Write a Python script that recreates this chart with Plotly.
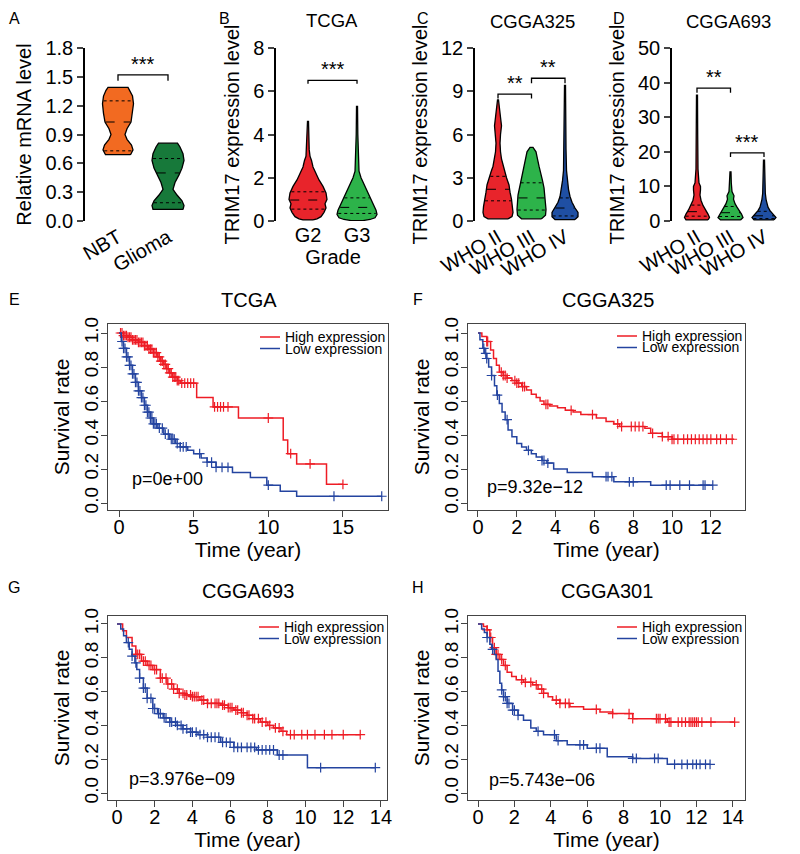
import numpy as np
import plotly.graph_objects as go

W, H = 800, 854
OFF = 8  # the page body adds an 8px margin around the figure
FONT = "Arial, Liberation Sans, sans-serif"

# ── Panel A: qPCR, relative mRNA level ────────────────────────────────────────
A_CATS = ["NBT", "Glioma"]
A_NBT_LEVEL = [0.69, 0.71, 0.74, 0.79, 0.85, 0.90, 0.96, 1.03, 1.12, 1.22, 1.30, 1.36, 1.39]
A_NBT_DENS = [12.5, 13.5, 15, 13.5, 9, 7, 9, 13, 14.5, 15.5, 14.5, 12, 10]
A_NBT_QUART = [0.73, 1.03, 1.25]
A_GLI_LEVEL = [0.12, 0.16, 0.21, 0.27, 0.33, 0.40, 0.48, 0.55, 0.63, 0.70, 0.77, 0.81]
A_GLI_DENS = [15, 16, 14, 9, 5, 7, 11, 14, 16, 15, 12, 9.5]
A_GLI_QUART = [0.19, 0.50, 0.65]

# ── Panel B: TCGA by grade ────────────────────────────────────────────────────
B_CATS = ["G2", "G3"]
B_G2_LEVEL = [0.05, 0.1, 0.2, 0.4, 0.6, 0.8, 1.0, 1.3, 1.6, 1.9, 2.2, 2.5, 2.8, 3.0, 3.3, 4.0, 4.6]
B_G2_DENS = [5, 9, 13, 16, 18, 17, 19, 18, 15, 11, 8, 5, 3.5, 2, 1.2, 0.8, 0.5]
B_G2_QUART = [0.55, 0.97, 1.35]
B_G3_LEVEL = [0.02, 0.07, 0.15, 0.3, 0.5, 0.8, 1.1, 1.4, 1.7, 2.0, 2.3, 3.0, 4.0, 5.3]
B_G3_DENS = [6, 13, 18, 20, 19, 16, 13, 10, 7, 4, 2, 1.2, 0.8, 0.5]
B_G3_QUART = [0.35, 0.63, 1.07]

# ── Panel C: CGGA325 by WHO grade ─────────────────────────────────────────────
WHO_CATS = ["WHO II", "WHO III", "WHO IV"]
C_II_LEVEL = [0.15, 0.3, 0.6, 1.0, 1.5, 2.0, 2.5, 3.0, 3.4, 3.8, 4.3, 4.8, 5.4, 6.0, 6.6, 7.2, 7.8, 8.4]
C_II_DENS = [10, 14, 15, 14.5, 13.5, 12, 11, 8.5, 7, 5, 3.5, 2.5, 2, 2.5, 3.5, 2.5, 1.2, 0.5]
C_II_QUART = [1.4, 2.2, 3.1]
C_III_LEVEL = [0.15, 0.4, 0.8, 1.3, 1.8, 2.3, 2.8, 3.3, 3.8, 4.3, 4.8, 5.1]
C_III_DENS = [10, 14, 14.5, 14, 13.5, 12.5, 11, 9, 7.5, 6, 4.5, 1.5]
C_III_QUART = [0.76, 1.6, 2.65]
C_IV_LEVEL = [0.1, 0.3, 0.6, 0.9, 1.3, 1.7, 2.2, 2.8, 3.5, 5.0, 7.0, 9.4]
C_IV_DENS = [10, 13, 13, 10, 7, 5, 3.5, 2.5, 1.5, 1, 0.8, 0.5]
C_IV_QUART = [0.35, 0.9, 1.6]

# ── Panel D: CGGA693 by WHO grade ─────────────────────────────────────────────
D_II_LEVEL = [0.3, 1, 2, 3.2, 4.5, 6, 7.5, 9, 10, 11, 15, 25, 36.4]
D_II_DENS = [11, 12.5, 11, 8.5, 6, 4, 3, 3.5, 3.5, 2, 1, 0.7, 0.5]
D_II_QUART = [1.4, 2.7, 4.6]
D_III_LEVEL = [0.3, 1, 2, 3, 4, 5, 6.3, 7.3, 8.5, 11, 14.2]
D_III_DENS = [10, 12.5, 11, 8.5, 6.5, 4.5, 3, 3.5, 1.5, 0.8, 0.5]
D_III_QUART = [1.3, 2.4, 4.2]
D_IV_LEVEL = [0.3, 1, 2, 3, 4, 6, 8, 12, 17.6]
D_IV_DENS = [10, 12, 9, 6, 4, 2.2, 1.3, 0.8, 0.5]
D_IV_QUART = [0.7, 1.5, 2.8]

# significance brackets: (left cat, right cat, height, drop, label)
A_SIG = [(0, 1, 1.52, 0.06, "***")]
B_SIG = [(0, 1, 6.5, 0.15, "***")]
C_SIG = [(0, 1, 8.8, 0.3, "**"), (1, 2, 9.9, 0.35, "**")]
D_SIG = [(0, 1, 38.4, 1.3, "**"), (1, 2, 19.7, 1.2, "***")]

# ── Kaplan-Meier curves (step times / survival, end of follow-up, censor times)
E_HIGH_T = [0, 0.3, 0.6, 0.9, 1.3, 1.7, 2.0, 2.3, 2.6, 2.8, 3.0, 3.2, 3.4, 3.6, 3.9, 4.1, 5.2, 6.3, 8.0, 11.0, 11.3, 11.9, 13.9]
E_HIGH_S = [1.0, 0.985, 0.975, 0.96, 0.945, 0.925, 0.905, 0.885, 0.86, 0.835, 0.815, 0.79, 0.765, 0.74, 0.72, 0.705, 0.62, 0.565, 0.50, 0.37, 0.29, 0.23, 0.11]
E_HIGH_END = 15.0
E_HIGH_CENS = [0.1, 0.2, 0.3, 0.4, 0.5, 0.6, 0.7, 0.8, 0.9, 1.0, 1.1, 1.2, 1.3, 1.4, 1.5, 1.6, 1.7, 1.8, 1.9, 2.0,
               2.1, 2.2, 2.3, 2.4, 2.5, 2.6, 2.7, 2.8, 2.9, 3.0, 3.1, 3.2, 3.3, 3.4, 3.5, 3.6, 3.7, 3.8, 3.9, 4.0,
               4.2, 4.4, 4.6, 4.8, 5.0, 6.4, 6.6, 6.8, 7.0, 7.3, 10.0, 11.5, 12.8, 15.0]
E_LOW_T = [0, 0.15, 0.3, 0.5, 0.7, 0.9, 1.1, 1.3, 1.5, 1.7, 1.9, 2.1, 2.3, 2.6, 3.0, 3.4, 3.8, 4.1, 4.6, 5.0, 5.5, 5.9, 6.5, 7.6, 8.8, 9.9, 10.8, 11.9]
E_LOW_S = [1.0, 0.95, 0.91, 0.86, 0.81, 0.76, 0.71, 0.66, 0.62, 0.575, 0.535, 0.50, 0.465, 0.44, 0.405, 0.375, 0.35, 0.33, 0.31, 0.29, 0.265, 0.24, 0.21, 0.18, 0.15, 0.105, 0.07, 0.04]
E_LOW_END = 17.6
E_LOW_CENS = [0.2, 0.3, 0.4, 0.5, 0.6, 0.7, 0.8, 0.9, 1.0, 1.1, 1.2, 1.3, 1.4, 1.5, 1.6, 1.7, 1.8, 1.9, 2.0, 2.1,
              2.2, 2.3, 2.4, 2.5, 2.7, 2.9, 3.1, 3.3, 3.5, 3.6, 3.7, 3.9, 4.1, 4.3, 4.5, 5.4, 5.9, 6.2, 6.5, 6.9,
              7.3, 10.0, 14.4, 17.6]

F_HIGH_T = [0, 0.2, 0.45, 0.65, 0.8, 0.95, 1.1, 1.3, 1.5, 1.75, 2.0, 2.25, 2.5, 2.75, 3.0, 3.2, 3.4, 3.7, 4.1, 4.5, 4.9, 5.3, 6.1, 6.6, 7.0, 7.3, 8.6, 8.9, 9.5, 10.0]
F_HIGH_S = [1.0, 0.98, 0.95, 0.9, 0.85, 0.81, 0.77, 0.75, 0.735, 0.72, 0.705, 0.685, 0.665, 0.64, 0.62, 0.60, 0.58, 0.57, 0.56, 0.545, 0.535, 0.52, 0.50, 0.48, 0.465, 0.45, 0.44, 0.41, 0.39, 0.375]
F_HIGH_END = 13.2
F_HIGH_CENS = [0.45, 0.5, 1.2, 1.3, 1.4, 1.5, 1.9, 2.0, 2.1, 2.3, 2.4, 3.5, 3.6, 4.8, 5.9, 7.2, 7.4, 7.9, 8.1, 8.3,
               8.5, 9.0, 9.5, 9.8, 10.0, 10.1, 10.3, 10.6, 10.8, 11.0, 11.2, 11.4, 11.6, 11.8, 12.0, 12.3, 12.5,
               12.8, 13.1]
F_LOW_T = [0, 0.1, 0.25, 0.35, 0.45, 0.55, 0.7, 0.85, 0.97, 1.1, 1.24, 1.4, 1.55, 1.75, 2.0, 2.25, 2.5, 2.75, 3.0, 3.3, 3.55, 3.9, 4.6, 5.9, 7.0, 8.9]
F_LOW_S = [1.0, 0.96, 0.91, 0.88, 0.85, 0.80, 0.75, 0.69, 0.635, 0.585, 0.535, 0.49, 0.43, 0.39, 0.35, 0.33, 0.31, 0.29, 0.27, 0.25, 0.235, 0.20, 0.18, 0.155, 0.125, 0.105]
F_LOW_END = 12.1
F_LOW_CENS = [0.3, 0.4, 0.45, 0.7, 1.0, 1.5, 2.6, 3.3, 3.4, 3.6, 6.6, 6.7, 6.9, 7.8, 8.0, 9.7, 9.9, 10.4, 10.9,
              11.6, 11.7, 12.1]

G_HIGH_T = [0, 0.3, 0.5, 0.8, 1.0, 1.3, 1.6, 1.9, 2.3, 2.65, 3.0, 3.3, 3.6, 4.0, 4.4, 4.8, 5.5, 5.9, 6.2, 6.6, 6.9, 7.2, 7.6, 8.0, 8.3, 8.7, 9.0]
G_HIGH_S = [1.0, 0.96, 0.92, 0.87, 0.82, 0.78, 0.755, 0.73, 0.68, 0.645, 0.615, 0.59, 0.58, 0.57, 0.55, 0.53, 0.52, 0.505, 0.49, 0.475, 0.46, 0.44, 0.42, 0.40, 0.385, 0.365, 0.345]
G_HIGH_END = 12.9
G_HIGH_CENS = [1.0, 1.1, 1.2, 1.4, 1.5, 1.7, 1.8, 2.0, 2.1, 2.3, 2.4, 2.6, 2.7, 2.9, 3.0, 3.2, 3.3, 3.5, 3.6, 3.7,
               3.9, 4.0, 4.1, 4.2, 4.3, 4.5, 4.6, 4.8, 5.0, 5.2, 5.3, 5.4, 5.6, 5.7, 5.9, 6.0, 6.1, 6.3, 6.4, 6.6,
               6.7, 6.9, 7.0, 7.2, 7.3, 7.5, 7.7, 7.9, 8.1, 8.4, 8.6, 8.8, 9.2, 9.4, 9.8, 10.1, 10.5, 11.0, 11.4,
               12.0, 12.9]
G_LOW_T = [0, 0.2, 0.35, 0.5, 0.65, 0.8, 0.95, 1.05, 1.2, 1.4, 1.6, 1.9, 2.15, 2.45, 2.8, 3.2, 3.5, 3.9, 4.3, 4.8, 5.5, 6.2, 7.4, 8.5, 10.1]
G_LOW_S = [1.0, 0.97, 0.93, 0.89, 0.85, 0.81, 0.77, 0.73, 0.68, 0.62, 0.56, 0.50, 0.47, 0.445, 0.42, 0.40, 0.38, 0.36, 0.345, 0.33, 0.30, 0.27, 0.255, 0.225, 0.15]
G_LOW_END = 13.7
G_LOW_CENS = [0.6, 0.8, 1.0, 1.2, 1.4, 1.5, 1.6, 1.8, 1.9, 2.0, 2.2, 2.3, 2.5, 2.6, 2.8, 2.9, 3.1, 3.2, 3.4, 3.5,
              3.7, 3.9, 4.0, 4.2, 4.4, 4.6, 4.8, 5.0, 5.2, 5.4, 5.6, 5.8, 6.0, 6.2, 6.4, 6.6, 6.9, 7.1, 7.3, 7.5,
              7.7, 7.9, 8.1, 8.3, 8.6, 8.8, 10.8, 13.7]

H_HIGH_T = [0, 0.3, 0.5, 0.65, 0.8, 1.0, 1.2, 1.4, 1.6, 1.85, 2.1, 2.5, 3.0, 3.3, 3.6, 3.85, 4.1, 4.5, 5.05, 5.8, 6.7, 7.4, 8.5, 10.4]
H_HIGH_S = [1.0, 0.985, 0.965, 0.92, 0.86, 0.82, 0.79, 0.755, 0.715, 0.69, 0.67, 0.655, 0.64, 0.615, 0.59, 0.57, 0.55, 0.53, 0.51, 0.495, 0.48, 0.47, 0.44, 0.42]
H_HIGH_END = 14.1
H_HIGH_CENS = [0.5, 0.7, 0.9, 1.0, 1.1, 1.3, 1.5, 2.4, 2.6, 2.9, 3.2, 3.5, 3.6, 4.3, 4.5, 4.8, 5.0, 6.5, 7.4, 8.3,
               8.5, 9.8, 9.9, 10.0, 10.3, 10.5, 10.6, 11.0, 11.2, 11.4, 11.6, 11.7, 11.8, 11.9, 12.0, 12.1, 12.3,
               12.8, 14.1]
H_LOW_T = [0, 0.2, 0.35, 0.5, 0.65, 0.75, 0.9, 1.0, 1.1, 1.2, 1.3, 1.4, 1.6, 1.9, 2.2, 2.5, 2.9, 3.2, 3.6, 4.3, 4.9, 6.0, 7.1, 8.5, 10.4]
H_LOW_S = [1.0, 0.97, 0.95, 0.92, 0.88, 0.85, 0.82, 0.79, 0.72, 0.65, 0.61, 0.57, 0.53, 0.49, 0.46, 0.43, 0.385, 0.365, 0.345, 0.31, 0.285, 0.265, 0.215, 0.205, 0.17]
H_LOW_END = 12.75
H_LOW_CENS = [0.5, 0.8, 1.3, 1.4, 1.5, 1.6, 1.7, 1.9, 2.0, 2.2, 3.3, 4.2, 4.4, 5.6, 5.8, 6.5, 6.7, 8.5, 8.7, 9.7,
              9.9, 10.8, 11.2, 11.5, 11.8, 12.0, 12.2, 12.5, 12.75]

# log-rank p-values, placed at (time, survival) inside each KM panel
P_TEXT = {5: "p=0e+00", 6: "p=9.32e\u221212", 7: "p=3.976e\u221209", 8: "p=5.743e\u221206"}
P_AT = {5: (0.74, 0.14), 6: (0.36, 0.094), 7: (0.53, 0.085), 8: (0.49, 0.08)}

RED_V, GREEN_V, BLUE_V = "#E8242B", "#2DB34A", "#1F4FA3"
ORANGE_A, DGREEN_A = "#F26A21", "#17793A"
KM_RED, KM_BLUE = "#EE1C25", "#2444A0"


def dom_x(p0, p1):
    return [(p0 - OFF) / W, (p1 - OFF) / W]


def dom_y(top, bottom):
    return [1 - (bottom - OFF) / H, 1 - (top - OFF) / H]


def pxx(p):
    return (p - OFF) / W


def pxy(p):
    return 1 - (p - OFF) / H


fig = go.Figure()


def ax_names(k):
    s = "" if k == 1 else str(k)
    return "x" + s, "y" + s


def add_violin(k, center, levels, dens, quart, color, ppu):
    xa, ya = ax_names(k)
    lv = np.array(levels, float)
    hw = np.array(dens, float) / ppu
    xs = np.concatenate([center + hw, (center - hw)[::-1], [center + hw[0]]])
    ys = np.concatenate([lv, lv[::-1], [lv[0]]])
    fig.add_trace(go.Scatter(x=xs, y=ys, mode="lines", fill="toself", fillcolor=color,
                             line=dict(color="black", width=1.3), xaxis=xa, yaxis=ya,
                             showlegend=False, hoverinfo="skip"))
    for i, q in enumerate(quart):
        w = np.interp(q, lv, hw) * 0.95
        fig.add_trace(go.Scatter(x=[center - w, center + w], y=[q, q], mode="lines",
                                 line=dict(color="black", width=1, dash="dash" if i == 1 else "dot"),
                                 xaxis=xa, yaxis=ya, showlegend=False, hoverinfo="skip"))


def add_sig(k, sigs):
    xa, ya = ax_names(k)
    for c1, c2, h, d, lab in sigs:
        fig.add_trace(go.Scatter(x=[c1, c1, c2, c2], y=[h - d, h, h, h - d], mode="lines",
                                 line=dict(color="black", width=1.3), xaxis=xa, yaxis=ya,
                                 showlegend=False, hoverinfo="skip"))
        fig.add_annotation(x=(c1 + c2) / 2, y=h, xref=xa, yref=ya, text=lab, showarrow=False,
                           yanchor="bottom", yshift=-2, font=dict(size=20, color="black"))


def add_km(k, t, s, end, cens, color):
    xa, ya = ax_names(k)
    fig.add_trace(go.Scatter(x=list(t) + [end], y=list(s) + [s[-1]], mode="lines",
                             line=dict(color=color, width=1.5, shape="hv"),
                             xaxis=xa, yaxis=ya, showlegend=False))
    ct = np.array(cens, float)
    idx = np.searchsorted(np.array(t, float), ct, side="right") - 1
    cy = np.array(s, float)[idx]
    fig.add_trace(go.Scatter(x=ct, y=cy, mode="markers",
                             marker=dict(symbol="cross-thin", size=7, line=dict(color=color, width=1.2)),
                             xaxis=xa, yaxis=ya, showlegend=False))


# ── top row violins ───────────────────────────────────────────────────────────
add_violin(1, 0, A_NBT_LEVEL, A_NBT_DENS, A_NBT_QUART, ORANGE_A, 50)
add_violin(1, 1, A_GLI_LEVEL, A_GLI_DENS, A_GLI_QUART, DGREEN_A, 50)
add_sig(1, A_SIG)

add_violin(2, 0, B_G2_LEVEL, B_G2_DENS, B_G2_QUART, RED_V, 49)
add_violin(2, 1, B_G3_LEVEL, B_G3_DENS, B_G3_QUART, GREEN_V, 49)
add_sig(2, B_SIG)

add_violin(3, 0, C_II_LEVEL, C_II_DENS, C_II_QUART, RED_V, 33.5)
add_violin(3, 1, C_III_LEVEL, C_III_DENS, C_III_QUART, GREEN_V, 33.5)
add_violin(3, 2, C_IV_LEVEL, C_IV_DENS, C_IV_QUART, BLUE_V, 33.5)
add_sig(3, C_SIG)

add_violin(4, 0, D_II_LEVEL, D_II_DENS, D_II_QUART, RED_V, 33.5)
add_violin(4, 1, D_III_LEVEL, D_III_DENS, D_III_QUART, GREEN_V, 33.5)
add_violin(4, 2, D_IV_LEVEL, D_IV_DENS, D_IV_QUART, BLUE_V, 33.5)
add_sig(4, D_SIG)

# ── KM plots ──────────────────────────────────────────────────────────────────
add_km(5, E_HIGH_T, E_HIGH_S, E_HIGH_END, E_HIGH_CENS, KM_RED)
add_km(5, E_LOW_T, E_LOW_S, E_LOW_END, E_LOW_CENS, KM_BLUE)
add_km(6, F_HIGH_T, F_HIGH_S, F_HIGH_END, F_HIGH_CENS, KM_RED)
add_km(6, F_LOW_T, F_LOW_S, F_LOW_END, F_LOW_CENS, KM_BLUE)
add_km(7, G_HIGH_T, G_HIGH_S, G_HIGH_END, G_HIGH_CENS, KM_RED)
add_km(7, G_LOW_T, G_LOW_S, G_LOW_END, G_LOW_CENS, KM_BLUE)
add_km(8, H_HIGH_T, H_HIGH_S, H_HIGH_END, H_HIGH_CENS, KM_RED)
add_km(8, H_LOW_T, H_LOW_S, H_LOW_END, H_LOW_CENS, KM_BLUE)


# ── axes ──────────────────────────────────────────────────────────────────────
def vy(k, ymax, dtick, fmt, title):
    xa, _ = ax_names(k)
    return dict(domain=dom_y(48, 221), range=[0, ymax], dtick=dtick, tick0=0, tickformat=fmt,
                ticks="outside", ticklen=6, tickwidth=1.5, showline=True, linewidth=1.5,
                linecolor="black", showgrid=False, zeroline=False, anchor=xa, automargin=False,
                tickfont=dict(size=20), title=dict(text=title, font=dict(size=20), standoff=8))


def vx(k, dom, rng, labels, angle, title=None):
    _, ya = ax_names(k)
    d = dict(domain=dom_x(*dom), range=rng, tickvals=list(range(len(labels))), ticktext=labels,
             tickangle=angle, showline=False, ticks="", showgrid=False, zeroline=False,
             anchor=ya, automargin=False, tickfont=dict(size=20))
    if title:
        d["title"] = dict(text=title, font=dict(size=20), standoff=4)
    return d


def kmx(k, dom, rng, dtick):
    _, ya = ax_names(k)
    return dict(domain=dom_x(*dom), range=rng, dtick=dtick, tick0=0, ticks="outside", ticklen=6,
                tickwidth=1, showline=True, mirror=True, linewidth=1, linecolor="#444",
                showgrid=False, zeroline=False, anchor=ya, automargin=False, tickfont=dict(size=20),
                ticklabelstandoff=-7,
                title=dict(text="Time (year)", font=dict(size=21), standoff=5))


def kmy(k, dom, rng):
    xa, _ = ax_names(k)
    return dict(domain=dom_y(*dom), range=rng, dtick=0.2, tick0=0, tickformat=".1f", tickangle=-90,
                ticks="outside", ticklen=6, tickwidth=1, showline=True, mirror=True, linewidth=1,
                linecolor="#444", showgrid=False, zeroline=False, anchor=xa, automargin=False,
                tickfont=dict(size=19), ticklabelstandoff=-5,
                title=dict(text="Survival rate", font=dict(size=21), standoff=6))


fig.update_layout(
    xaxis=vx(1, (85, 200), [-0.66, 1.64], A_CATS, -30),
    yaxis=vy(1, 1.8, 0.3, ".1f", "Relative mRNA level"),
    xaxis2=vx(2, (276, 390), [-0.653, 1.673], B_CATS, 0, "Grade"),
    yaxis2=vy(2, 8, 2, "d", "TRIM17 expression level"),
    xaxis3=vx(3, (475, 590), [-0.687, 2.746], WHO_CATS, -30),
    yaxis3=vy(3, 12, 3, "d", "TRIM17 expression level"),
    xaxis4=vx(4, (672, 790), [-0.746, 2.776], WHO_CATS, -30),
    yaxis4=vy(4, 50, 10, "d", "TRIM17 expression level"),
    xaxis5=kmx(5, (108, 388), [-0.74, 18.02], 5),
    yaxis5=kmy(5, (324, 510), [-0.041, 1.053]),
    xaxis6=kmx(6, (468, 745), [-0.515, 13.76], 2),
    yaxis6=kmy(6, (324, 510), [-0.041, 1.053]),
    xaxis7=kmx(7, (108, 387), [-0.477, 14.32], 2),
    yaxis7=kmy(7, (616, 800), [-0.041, 1.047]),
    xaxis8=kmx(8, (468, 745), [-0.55, 14.67], 2),
    yaxis8=kmy(8, (616, 800), [-0.041, 1.047]),
)

# panel letters and titles (kept clear of the page's top/left edge)
for lab, x, y in [("A", 14, 18), ("B", 224, 18), ("C", 423, 18), ("D", 619, 18),
                  ("E", 14, 299), ("F", 418, 299), ("G", 14, 587), ("H", 418, 587)]:
    fig.add_annotation(x=pxx(x), y=pxy(y), xref="paper", yref="paper", text=lab, showarrow=False,
                       xanchor="center", yanchor="middle", font=dict(size=16, color="black"))

for txt, x, y, sz in [("TCGA", 332, 20, 18.5), ("CGGA325", 532, 21, 18.5), ("CGGA693", 728, 21, 18.5),
                      ("TCGA", 249, 300, 20), ("CGGA325", 608, 300, 20),
                      ("CGGA693", 248, 591, 20), ("CGGA301", 607, 591, 20)]:
    fig.add_annotation(x=pxx(x), y=pxy(y), xref="paper", yref="paper", text=txt, showarrow=False,
                       xanchor="center", yanchor="middle", font=dict(size=sz, color="black"))

# KM legends (line key + label) and p-values
for k, right, top in [(5, 388, 337), (6, 745, 336), (7, 387, 627), (8, 745, 627)]:
    for j, (name, col) in enumerate([("High expression", KM_RED), ("Low expression", KM_BLUE)]):
        yy = top + j * 11.5
        fig.add_shape(type="line", xref="paper", yref="paper", x0=pxx(right - 128), x1=pxx(right - 108),
                      y0=pxy(yy), y1=pxy(yy), line=dict(color=col, width=1.5))
        fig.add_annotation(x=pxx(right - 105), y=pxy(yy), xref="paper", yref="paper", text=name,
                           showarrow=False, xanchor="left", yanchor="middle",
                           font=dict(size=14, color="black"))
    xa, ya = ax_names(k)
    px_t, px_s = P_AT[k]
    fig.add_annotation(x=px_t, y=px_s, xref=xa, yref=ya, text=P_TEXT[k],
                       showarrow=False, xanchor="left", yanchor="middle", font=dict(size=18, color="black"))

fig.update_layout(
    width=W, height=H, margin=dict(l=0, r=0, t=0, b=0, autoexpand=False),
    paper_bgcolor="white", plot_bgcolor="white",
    font=dict(family=FONT, color="black"),
    showlegend=False,
)

fig.write_html("out.html")
